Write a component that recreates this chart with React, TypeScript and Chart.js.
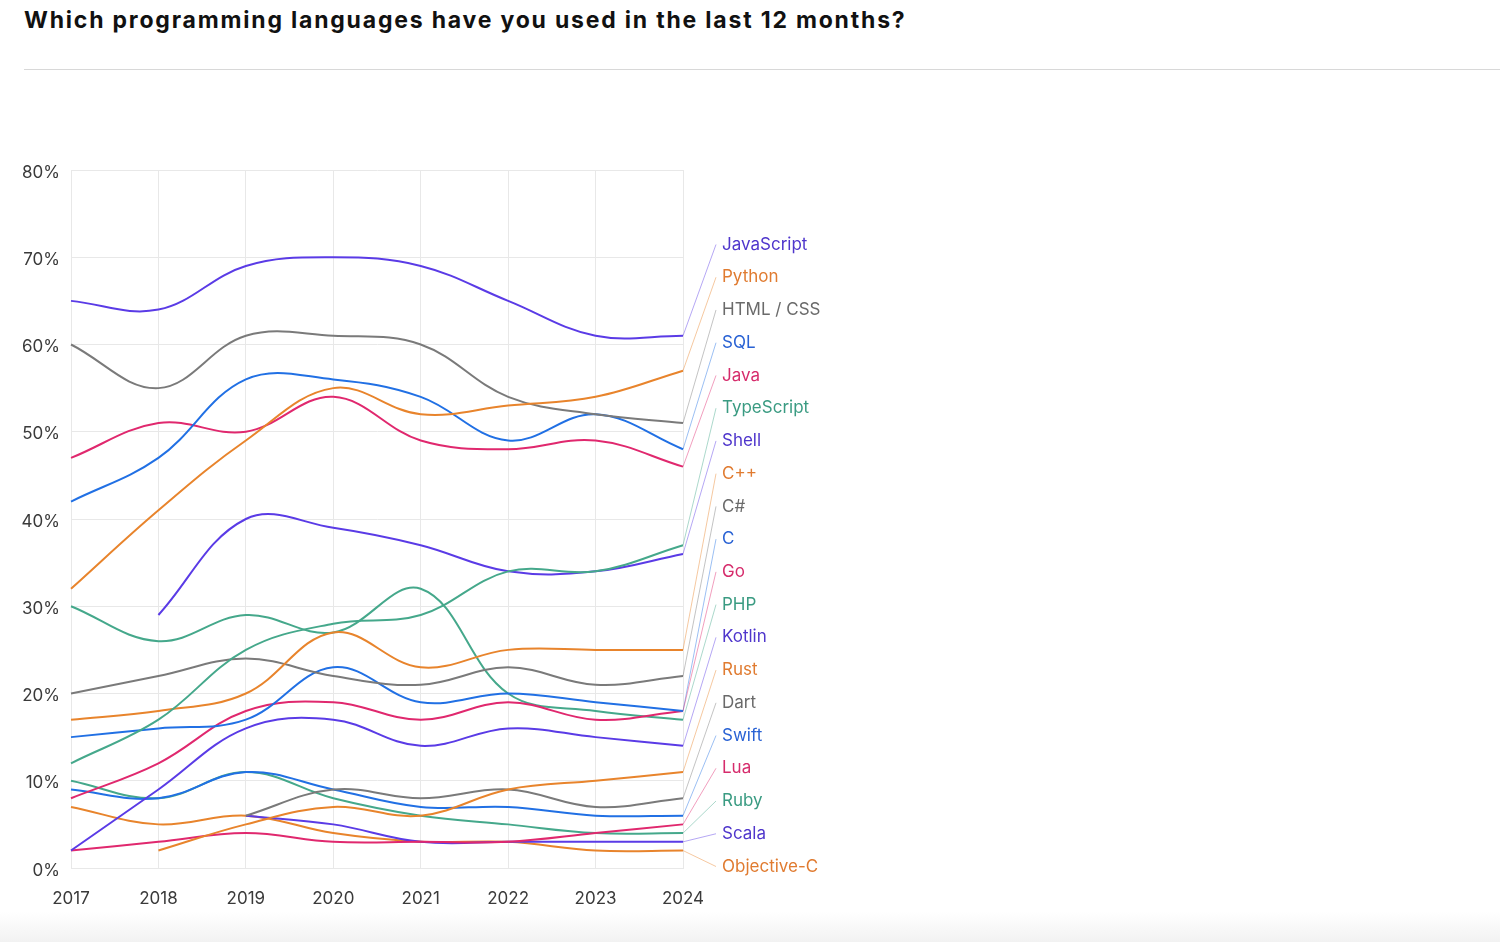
import React, { useEffect, useRef } from "react";
import { Chart, registerables } from "chart.js";

Chart.register(...registerables);

const years = ["2017", "2018", "2019", "2020", "2021", "2022", "2023", "2024"];
const yTicks = [0, 10, 20, 30, 40, 50, 60, 70, 80];

const javascript = [65, 64, 69, 70, 69, 65, 61, 61];
const python = [32, 41, 49, 55, 52, 53, 54, 57];
const htmlCss = [60, 55, 61, 61, 60, 54, 52, 51];
const sql = [42, 47, 56, 56, 54, 49, 52, 48];
const java = [47, 51, 50, 54, 49, 48, 49, 46];
const typescript = [12, 17, 25, 28, 29, 34, 34, 37];
const shell = [null, 29, 40, 39, 37, 34, 34, 36];
const cpp = [17, 18, 20, 27, 23, 25, 25, 25];
const csharp = [20, 22, 24, 22, 21, 23, 21, 22];
const cLang = [15, 16, 17, 23, 19, 20, 19, 18];
const go = [8, 12, 18, 19, 17, 19, 17, 18];
const php = [30, 26, 29, 27, 32, 20, 18, 17];
const kotlin = [2, 9, 16, 17, 14, 16, 15, 14];
const rust = [null, 2, 5, 7, 6, 9, 10, 11];
const dart = [null, null, 6, 9, 8, 9, 7, 8];
const swift = [9, 8, 11, 9, 7, 7, 6, 6];
const lua = [2, 3, 4, 3, 3, 3, 4, 5];
const ruby = [10, 8, 11, 8, 6, 5, 4, 4];
const scala = [null, null, 6, 5, 3, 3, 3, 3];
const objectiveC = [7, 5, 6, 4, 3, 3, 2, 2];

const languages = [
  "JavaScript", "Python", "HTML / CSS", "SQL", "Java", "TypeScript", "Shell", "C++", "C#", "C",
  "Go", "PHP", "Kotlin", "Rust", "Dart", "Swift", "Lua", "Ruby", "Scala", "Objective-C",
];
const seriesValues = [
  javascript, python, htmlCss, sql, java, typescript, shell, cpp, csharp, cLang,
  go, php, kotlin, rust, dart, swift, lua, ruby, scala, objectiveC,
];

const palette = ["#5a3be6", "#e8842c", "#7a7a7a", "#2170e4", "#e0286e", "#45a88b"];
const labelPalette = ["#4f36cc", "#e07b30", "#6a6a6a", "#2962d4", "#d62c6c", "#3a9b82"];

function hexToRgba(hex: string, a: number) {
  const n = parseInt(hex.slice(1), 16);
  return `rgba(${(n >> 16) & 255},${(n >> 8) & 255},${n & 255},${a})`;
}

const FONT = "Inter, 'Noto Sans', sans-serif";

const endLabels = {
  id: "endLabels",
  afterDatasetsDraw(chart: any) {
    const ctx = chart.ctx;
    const labelX = 722;
    const labelTop = 244.5;
    const labelStep = (866.5 - 244.5) / 19;
    ctx.save();
    chart.data.datasets.forEach((ds: any, i: number) => {
      const meta = chart.getDatasetMeta(i);
      const pts = meta.data;
      const last = pts[pts.length - 1];
      const ly = labelTop + i * labelStep;
      const c = palette[i % palette.length];
      ctx.strokeStyle = hexToRgba(c, 0.45);
      ctx.lineWidth = 1;
      ctx.beginPath();
      ctx.moveTo(last.x, last.y);
      ctx.lineTo(labelX - 6, ly);
      ctx.stroke();
      ctx.fillStyle = labelPalette[i % labelPalette.length];
      ctx.font = `17px ${FONT}`;
      ctx.textBaseline = "middle";
      ctx.textAlign = "left";
      ctx.fillText(ds.label, labelX, ly);
    });
    ctx.restore();
  },
};

export default function App() {
  const ref = useRef<HTMLCanvasElement | null>(null);

  useEffect(() => {
    if (!ref.current) return;
    const chart = new Chart(ref.current, {
      type: "line",
      data: {
        labels: years,
        datasets: languages.map((name, i) => ({
          label: name,
          data: seriesValues[i],
          borderColor: palette[i % palette.length],
          backgroundColor: palette[i % palette.length],
          borderWidth: 2,
          pointRadius: 0,
          tension: 0.38,
          fill: false,
        })),
      },
      options: {
        animation: false,
        responsive: false,
        devicePixelRatio: 1,
        layout: { padding: { top: 170, right: 817, left: 0, bottom: 0 } },
        plugins: {
          legend: { display: false },
          tooltip: { enabled: false },
        },
        scales: {
          x: {
            offset: false,
            grid: { color: "#e8e8e8", drawTicks: false },
            border: { color: "#e8e8e8" },
            ticks: {
              padding: 21,
              color: "#3a3a3a",
              font: { family: FONT, size: 17 },
              maxRotation: 0,
              autoSkip: false,
            },
            afterFit: (s: any) => {
              s.height = 74;
            },
          },
          y: {
            min: 0,
            max: 80,
            afterBuildTicks: (s: any) => {
              s.ticks = yTicks.map((v) => ({ value: v }));
            },
            grid: { color: "#e8e8e8", drawTicks: false },
            border: { color: "#e8e8e8" },
            ticks: {
              padding: 11,
              labelOffset: 2.5,
              color: "#3a3a3a",
              font: { family: FONT, size: 17 },
              callback: (v: any) => `${v}%`,
            },
            afterFit: (s: any) => {
              s.width = 71;
            },
          },
        },
      },
      plugins: [endLabels],
    } as any);
    return () => chart.destroy();
  }, []);

  return (
    <div
      style={{
        position: "absolute",
        left: 0,
        top: 0,
        width: 1500,
        height: 942,
        background: "#ffffff",
        overflow: "hidden",
        fontFamily: FONT,
      }}
    >
      <div
        style={{
          position: "absolute",
          left: 24,
          top: 5,
          lineHeight: "30px",
          fontSize: 23,
          fontWeight: 700,
          letterSpacing: "1.8px",
          color: "#111111",
          whiteSpace: "nowrap",
        }}
      >
        Which programming languages have you used in the last 12 months?
      </div>
      <div
        style={{
          position: "absolute",
          left: 24,
          right: 0,
          top: 69,
          height: 1,
          background: "#d8d8d8",
        }}
      />
      <div
        style={{
          position: "absolute",
          left: 0,
          right: 0,
          bottom: 0,
          height: 30,
          background: "linear-gradient(#ffffff, #f2f2f2)",
        }}
      />
      <canvas
        ref={ref}
        width={1500}
        height={942}
        style={{ position: "absolute", left: 0, top: 0, width: 1500, height: 942 }}
      />
    </div>
  );
}
